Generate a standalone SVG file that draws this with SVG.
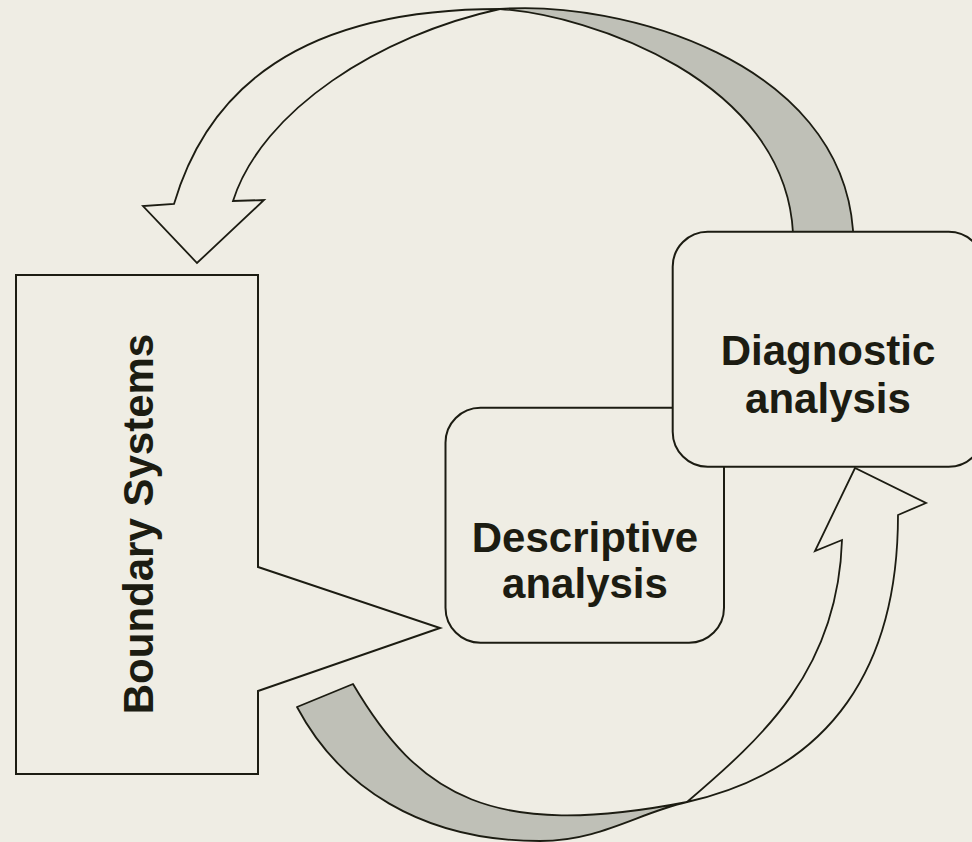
<svg xmlns="http://www.w3.org/2000/svg" width="972" height="842" viewBox="0 0 972 842">
  <style>
    .bg { fill: #EFEDE4; }
    .shape { fill: #EFEDE4; stroke: #1C1C12; stroke-width: 2; stroke-linejoin: miter; }
    .band { fill: #BFC0B7; stroke: #1C1C12; stroke-width: 1.8; stroke-linejoin: round; }
    .outline { fill: #EFEDE4; stroke: #1C1C12; stroke-width: 1.8; stroke-linejoin: miter; }
    .label { font-family: "Liberation Sans", Arial, sans-serif; font-weight: bold; font-size: 42px; fill: #1C1C12; text-anchor: middle; }
  </style>

  <rect class="bg" x="0" y="0" width="972" height="842"/>

  <!-- curved arrows between the stages -->
  <g id="connectors">
    <!-- upper arrow: back face of the twisted band, then the front face with its head -->
    <path class="band" d="M500,9 C620,0 840,60 853,230 L853,236 L793,238 L793,233 C785,80 590,15 500,9 Z"/>
    <path class="outline" d="M500,9 C300,9 208,89 174,204 L143,206 L197,263 L264,200 L233,201 C262,110 380,35 500,9 Z"/>
    <!-- lower arrow -->
    <path class="band" d="M297,707 L353,684 C419,796 491,840 687,802 C638,813 600,841 540,841 C420,841 339,786 297,707 Z"/>
    <path class="outline" d="M687,802 C833,769 898,665 898,515 L926,503 L855,468 L815,551 L842,540 C838,670 763,737 687,802 Z"/>
  </g>

  <!-- callout box pointing at the first stage -->
  <g id="boundary-systems">
    <path class="shape" d="M16,275 H258 V567 L440,628 L258,691 V774 H16 Z"/>
    <text class="label" transform="translate(153,524) rotate(-90)" x="0" y="0">Boundary Systems</text>
  </g>

  <g id="descriptive-analysis">
    <rect class="shape" x="445.5" y="407.7" width="278.5" height="235" rx="35" ry="35"/>
    <text class="label" x="585" y="552">Descriptive</text>
    <text class="label" x="585" y="598">analysis</text>
  </g>

  <g id="diagnostic-analysis">
    <rect class="shape" x="672.7" y="231.7" width="311" height="235" rx="35" ry="35"/>
    <text class="label" x="828" y="365">Diagnostic</text>
    <text class="label" x="828" y="413">analysis</text>
  </g>
</svg>
